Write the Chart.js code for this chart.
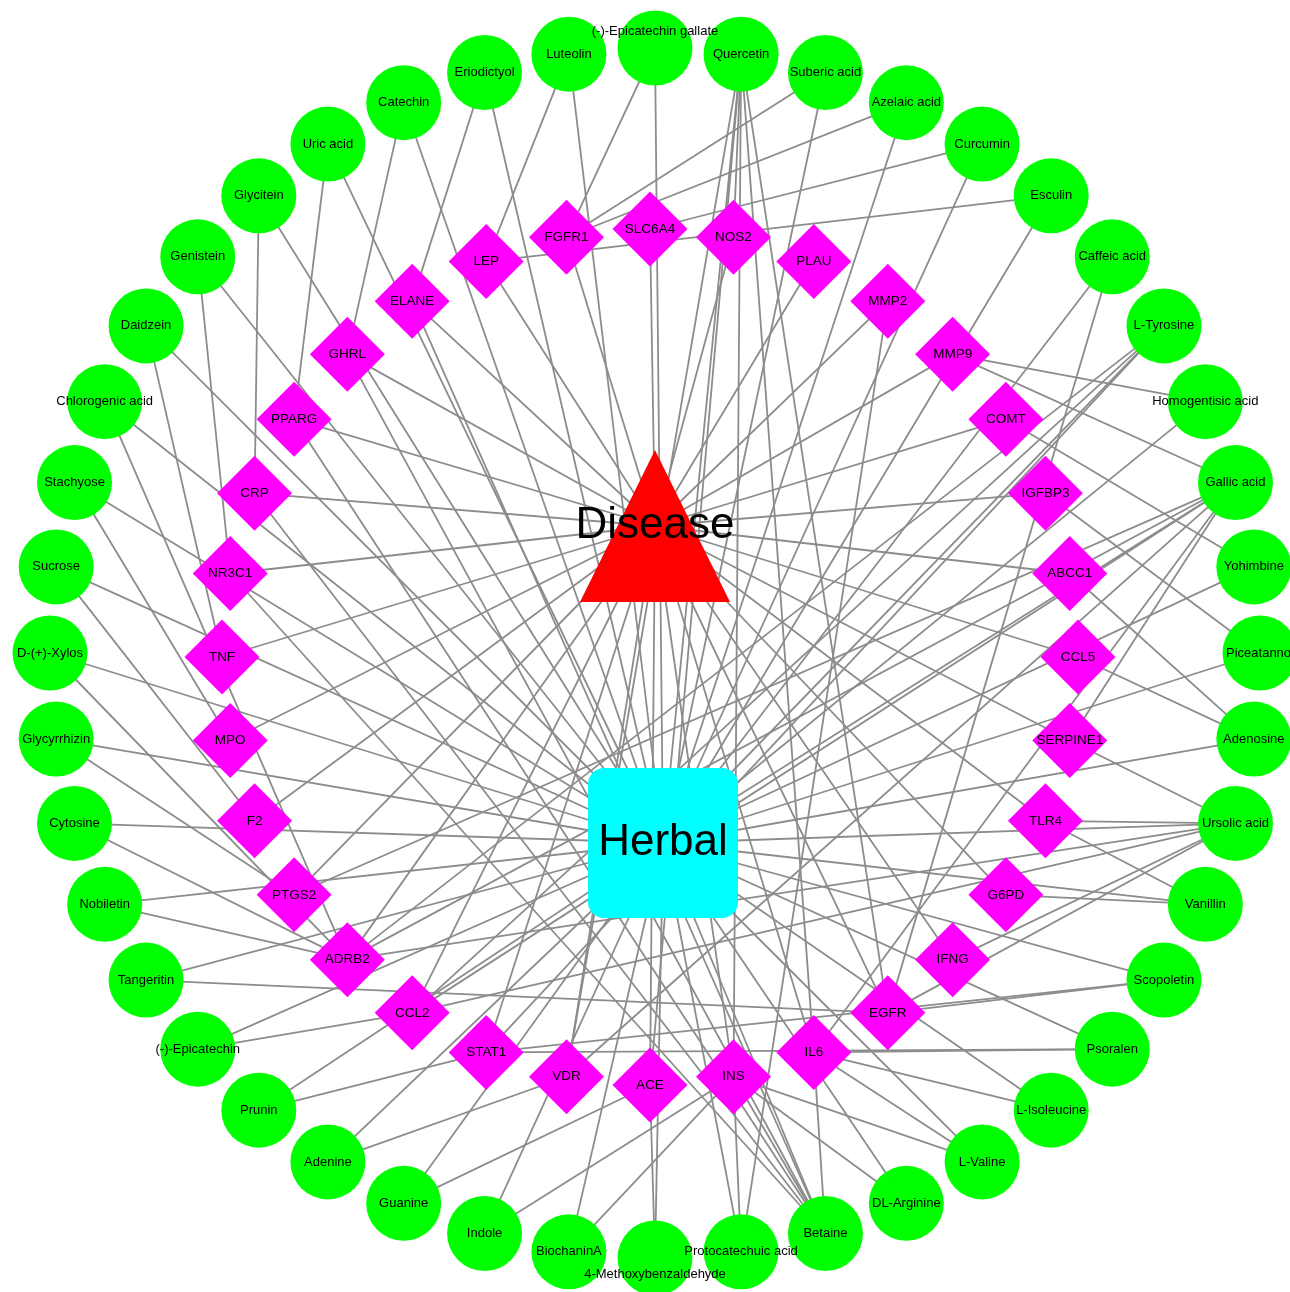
<!DOCTYPE html>
<html>
<head>
<meta charset="utf-8">
<title>Herbal - compound - target - disease network</title>
<script src="https://cdn.jsdelivr.net/npm/chart.js@4.4.1/dist/chart.umd.min.js"></script>
<style>
  html, body { margin: 0; padding: 0; background: #ffffff; }
  #net { display: block; }
</style>
</head>
<body>
<canvas id="net" width="1290" height="1292"></canvas>
<script>
/* ===== DATA ===== */
// outer ring: compounds, clockwise from the top
const compounds = [
  '(-)-Epicatechin gallate', 'Quercetin', 'Suberic acid', 'Azelaic acid', 'Curcumin',
  'Esculin', 'Caffeic acid', 'L-Tyrosine', 'Homogentisic acid', 'Gallic acid',
  'Yohimbine', 'Piceatannol', 'Adenosine', 'Ursolic acid', 'Vanillin',
  'Scopoletin', 'Psoralen', 'L-Isoleucine', 'L-Valine', 'DL-Arginine',
  'Betaine', 'Protocatechuic acid', '4-Methoxybenzaldehyde', 'BiochaninA', 'Indole',
  'Guanine', 'Adenine', 'Prunin', '(-)-Epicatechin', 'Tangeritin',
  'Nobiletin', 'Cytosine', 'Glycyrrhizin', 'D-(+)-Xylos', 'Sucrose',
  'Stachyose', 'Chlorogenic acid', 'Daidzein', 'Genistein', 'Glycitein',
  'Uric acid', 'Catechin', 'Eriodictyol', 'Luteolin'
];

// inner ring: targets, clockwise from the top
const targets = [
  'SLC6A4', 'NOS2', 'PLAU', 'MMP2', 'MMP9', 'COMT', 'IGFBP3', 'ABCC1',
  'CCL5', 'SERPINE1', 'TLR4', 'G6PD', 'IFNG', 'EGFR', 'IL6', 'INS',
  'ACE', 'VDR', 'STAT1', 'CCL2', 'ADRB2', 'PTGS2', 'F2', 'MPO',
  'TNF', 'NR3C1', 'CRP', 'PPARG', 'GHRL', 'ELANE', 'LEP', 'FGFR1'
];

// compound -> target links (every compound also links to Herbal, every target to Disease)
const compoundTargetLinks = [
  ['(-)-Epicatechin gallate', 'FGFR1'],
  ['Quercetin', 'NOS2'], ['Quercetin', 'ACE'], ['Quercetin', 'INS'], ['Quercetin', 'IL6'],
  ['Quercetin', 'EGFR'], ['Quercetin', 'VDR'],
  ['Suberic acid', 'FGFR1'],
  ['Azelaic acid', 'FGFR1'],
  ['Curcumin', 'SLC6A4'],
  ['Esculin', 'LEP'],
  ['Caffeic acid', 'EGFR'],
  ['L-Tyrosine', 'CCL2'], ['L-Tyrosine', 'ADRB2'], ['L-Tyrosine', 'STAT1'],
  ['Homogentisic acid', 'MMP9'],
  ['Gallic acid', 'MMP9'], ['Gallic acid', 'SERPINE1'], ['Gallic acid', 'IL6'], ['Gallic acid', 'VDR'],
  ['Gallic acid', 'CCL2'], ['Gallic acid', 'ADRB2'], ['Gallic acid', 'PTGS2'],
  ['Yohimbine', 'COMT'],
  ['Piceatannol', 'IGFBP3'],
  ['Adenosine', 'CCL5'], ['Adenosine', 'ABCC1'],
  ['Ursolic acid', 'TLR4'], ['Ursolic acid', 'SERPINE1'], ['Ursolic acid', 'IFNG'],
  ['Ursolic acid', 'EGFR'], ['Ursolic acid', 'CCL2'], ['Ursolic acid', 'ADRB2'],
  ['Vanillin', 'G6PD'], ['Vanillin', 'TLR4'],
  ['Scopoletin', 'EGFR'], ['Scopoletin', 'STAT1'],
  ['Psoralen', 'IL6'], ['Psoralen', 'STAT1'],
  ['L-Isoleucine', 'IL6'],
  ['L-Valine', 'IL6'], ['L-Valine', 'INS'],
  ['DL-Arginine', 'INS'],
  ['Betaine', 'IL6'], ['Betaine', 'INS'], ['Betaine', 'ELANE'], ['Betaine', 'GHRL'],
  ['Betaine', 'PPARG'], ['Betaine', 'CRP'], ['Betaine', 'NR3C1'],
  ['Protocatechuic acid', 'INS'], ['Protocatechuic acid', 'MMP2'],
  ['4-Methoxybenzaldehyde', 'ACE'],
  ['BiochaninA', 'INS'],
  ['Indole', 'INS'],
  ['Guanine', 'ACE'],
  ['Adenine', 'VDR'],
  ['Prunin', 'STAT1'],
  ['(-)-Epicatechin', 'CCL2'],
  ['Tangeritin', 'EGFR'],
  ['Nobiletin', 'ADRB2'],
  ['Cytosine', 'ADRB2'],
  ['Glycyrrhizin', 'PTGS2'],
  ['D-(+)-Xylos', 'ADRB2'],
  ['Sucrose', 'F2'],
  ['Stachyose', 'MPO'],
  ['Chlorogenic acid', 'ADRB2'],
  ['Daidzein', 'TNF'],
  ['Genistein', 'NR3C1'],
  ['Glycitein', 'CRP'],
  ['Uric acid', 'PPARG'],
  ['Catechin', 'GHRL'],
  ['Eriodictyol', 'ELANE'],
  ['Luteolin', 'LEP']
];

/* ===== LAYOUT (canvas units, y grows downward) ===== */
const W = 1290, H = 1292;
const outerRing = { cx: 655, cy: 653, r: 605 };
const innerRing = { cx: 650, cy: 657, r: 428 };
const diseasePos = { x: 655, y: 526 };
const herbalPos = { x: 663, y: 843 };

function ringPos(i, n, ring) {
  const a = i * 2 * Math.PI / n;
  return { x: ring.cx + ring.r * Math.sin(a), y: ring.cy - ring.r * Math.cos(a) };
}

const compoundPos = {};
compounds.forEach((c, i) => { compoundPos[c] = ringPos(i, compounds.length, outerRing); });
const targetPos = {};
targets.forEach((t, i) => { targetPos[t] = ringPos(i, targets.length, innerRing); });

// a few labels sit off-centre in the original
const labelShift = { '(-)-Epicatechin gallate': -17, '4-Methoxybenzaldehyde': 16 };

/* ===== CUSTOM SHAPES (triangle + rounded square) ===== */
function makeTriangle() {
  const c = document.createElement('canvas');
  c.width = 152; c.height = 152;
  const g = c.getContext('2d');
  g.fillStyle = '#ff0000';
  g.beginPath();
  g.moveTo(76, 0);
  g.lineTo(151, 152);
  g.lineTo(1, 152);
  g.closePath();
  g.fill();
  return c;
}
function makeRoundSquare() {
  const c = document.createElement('canvas');
  c.width = 150; c.height = 150;
  const g = c.getContext('2d');
  g.fillStyle = '#00ffff';
  g.beginPath();
  g.roundRect(0, 0, 150, 150, 16);
  g.fill();
  return c;
}

/* ===== DATASETS ===== */
const edgeStyle = {
  type: 'scatter',
  showLine: true,
  borderColor: '#8c8c8c',
  borderWidth: 1.8,
  pointRadius: 0,
  pointHoverRadius: 0,
  order: 10,
  clip: false
};

const edgeSets = [];
compoundTargetLinks.forEach(([c, t]) => {
  edgeSets.push(Object.assign({ data: [compoundPos[c], targetPos[t]] }, edgeStyle));
});
compounds.forEach(c => {
  edgeSets.push(Object.assign({ data: [compoundPos[c], herbalPos] }, edgeStyle));
});
targets.forEach(t => {
  edgeSets.push(Object.assign({ data: [targetPos[t], diseasePos] }, edgeStyle));
});

const nodeSets = [
  {
    data: compounds.map(c => compoundPos[c]),
    names: compounds, labelFont: '13px "Liberation Sans", Arial, sans-serif',
    pointStyle: 'circle', pointRadius: 37.5, backgroundColor: '#00ff00', borderWidth: 0,
    order: 1, clip: false
  },
  {
    data: targets.map(t => targetPos[t]),
    names: targets, labelFont: '13.5px "Liberation Sans", Arial, sans-serif',
    pointStyle: 'rectRot', pointRadius: 37.5, backgroundColor: '#ff00ff', borderWidth: 0,
    order: 1, clip: false
  },
  {
    data: [diseasePos], names: ['Disease'], labelFont: '44px "Liberation Sans", Arial, sans-serif',
    pointStyle: makeTriangle(), pointRadius: 76, order: 1, clip: false
  },
  {
    data: [herbalPos], names: ['Herbal'], labelFont: '44px "Liberation Sans", Arial, sans-serif',
    pointStyle: makeRoundSquare(), pointRadius: 75, order: 1, clip: false
  }
];

/* ===== LABELS ===== */
const nodeLabels = {
  id: 'nodeLabels',
  afterDatasetsDraw(chart) {
    const ctx = chart.ctx;
    ctx.save();
    ctx.fillStyle = '#000000';
    ctx.textAlign = 'center';
    ctx.textBaseline = 'middle';
    chart.data.datasets.forEach((ds, di) => {
      if (!ds.names) return;
      ctx.font = ds.labelFont;
      chart.getDatasetMeta(di).data.forEach((pt, i) => {
        const name = ds.names[i];
        ctx.fillText(name, pt.x, pt.y + (labelShift[name] || 0));
      });
    });
    ctx.restore();
  }
};

new Chart(document.getElementById('net'), {
  type: 'scatter',
  data: { datasets: nodeSets.concat(edgeSets) },
  options: {
    responsive: false,
    animation: false,
    events: [],
    layout: { padding: 0, autoPadding: false },
    plugins: { legend: { display: false }, tooltip: { enabled: false } },
    scales: {
      x: { type: 'linear', min: 0, max: W, display: false },
      y: { type: 'linear', min: 0, max: H, reverse: true, display: false }
    }
  },
  plugins: [nodeLabels]
});
</script>
</body>
</html>
